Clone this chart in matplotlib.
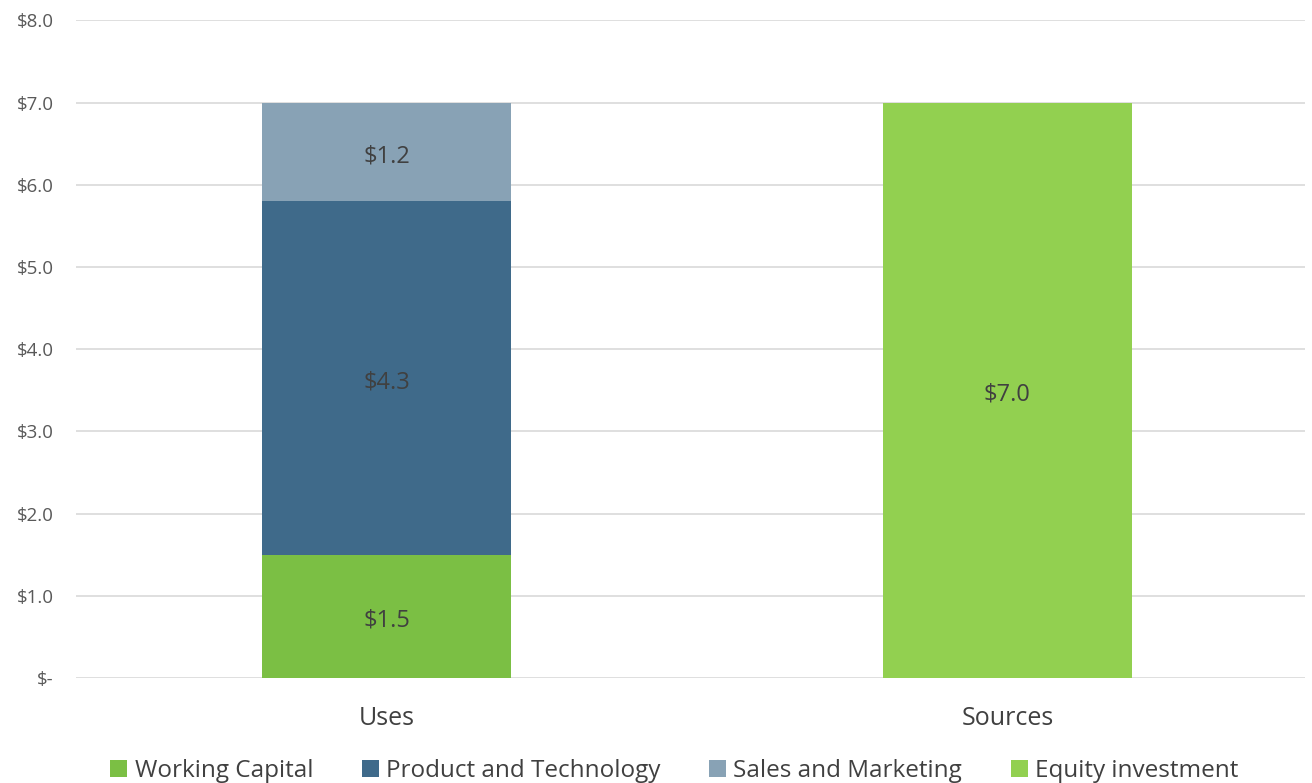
import matplotlib.pyplot as plt
import numpy as np

plt.rcParams['font.family'] = ['Open Sans', 'DejaVu Sans']

# data (millions of $)
categories = ['Uses', 'Sources']
series_names = ['Working Capital', 'Product and Technology',
                'Sales and Marketing', 'Equity investment']
working_capital = [1.5, 0.0]
product_tech = [4.3, 0.0]
sales_marketing = [1.2, 0.0]
equity = [0.0, 7.0]
y_ticks = [0, 1, 2, 3, 4, 5, 6, 7, 8]

colors = ['#7bbf44', '#3f6a8a', '#88a2b5', '#92d050']


def money(v):
    if v == 0:
        return '$-'
    return '${:.1f}'.format(v)


def main():
    fig = plt.figure(figsize=(13.12, 7.83), dpi=100)
    ax = fig.add_axes([0.058, 0.134, 0.937, 0.840])

    x = np.arange(len(categories))
    bottom = np.zeros(len(categories))
    all_series = [working_capital, product_tech, sales_marketing, equity]
    for name, vals, col in zip(series_names, all_series, colors):
        vals = np.array(vals)
        bars = ax.bar(x, vals, 0.4, bottom=bottom, color=col, label=name,
                      zorder=3)
        for b, v, bt in zip(bars, vals, bottom):
            if v > 0:
                ax.annotate(money(v), (b.get_x() + b.get_width() / 2,
                                       bt + v / 2),
                            xytext=(0, -3), textcoords='offset points',
                            ha='center', va='center', fontsize=17,
                            color='#404040', zorder=4)
        bottom = bottom + vals

    ax.set_xlim(-0.5, 1.48)
    ax.set_ylim(0, 8)
    ax.set_yticks(y_ticks)
    ax.set_yticklabels([money(v) for v in y_ticks])
    ax.set_xticks(x)
    ax.set_xticklabels(categories)
    ax.tick_params(axis='y', length=0, pad=16, labelsize=13.5,
                   labelcolor='#595959')
    ax.tick_params(axis='x', length=0, pad=20, labelsize=18,
                   labelcolor='#404040')
    ax.grid(axis='y', color='#d9d9d9', linewidth=1.2, zorder=0)
    for s in ax.spines.values():
        s.set_visible(False)

    fig.legend(loc='lower center', ncol=4, frameon=False, fontsize=17.5,
               handlelength=0.7, handleheight=0.7, handletextpad=0.3,
               columnspacing=2.0, bbox_to_anchor=(0.514, -0.028),
               labelcolor='#404040')

    fig.savefig('out.png', dpi=100)


if __name__ == '__main__':
    main()
